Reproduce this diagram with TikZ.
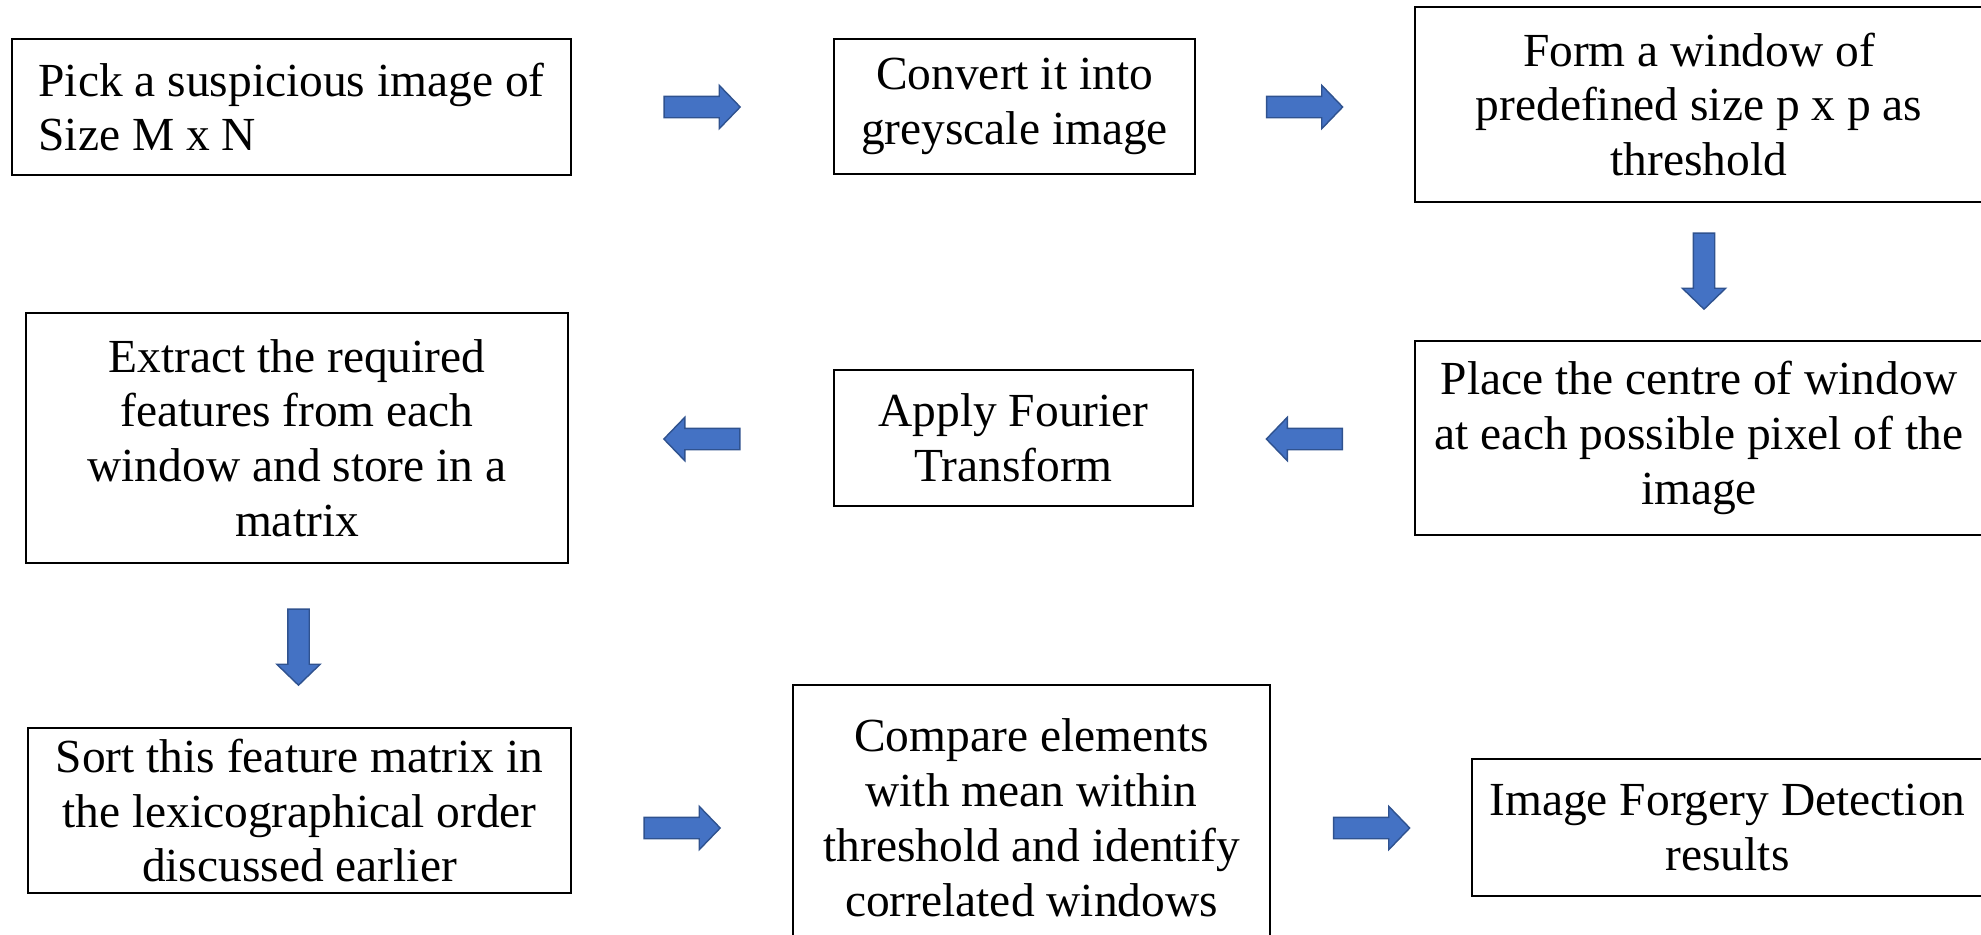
\documentclass[tikz,border=0pt]{standalone}
\usepackage{fontspec}
\setmainfont{Liberation Serif}
\usetikzlibrary{shapes.arrows}
\definecolor{arrowblue}{HTML}{4472C4}
\definecolor{arrowedge}{HTML}{2F528F}
\tikzset{
	font=\fontsize{13.5pt}{15.6pt}\selectfont,
	stage/.style={draw, line width=0.6pt, align=center, inner sep=0pt},
	blk/.style={single arrow, draw=arrowedge, fill=arrowblue, line width=0.4pt,
		inner sep=0.1cm, minimum width=0.42cm, minimum height=0.76cm,
		single arrow head extend=0.11cm, single arrow tip angle=92},
	toright/.style={blk},
	toleft/.style={blk, shape border rotate=180},
	todown/.style={blk, shape border rotate=270}
}

\begin{document}
\begin{tikzpicture}
\useasboundingbox (0,0) rectangle (19.81,-9.34);

% first row
\node[stage, align=left, minimum width=5.59cm, minimum height=1.36cm] (pick) at (2.915,-1.07)
	{Pick a suspicious image of\\Size M x N};
\node[stage, minimum width=3.61cm, minimum height=1.35cm] (grey) at (10.145,-1.065)
	{Convert it into\\greyscale image};
\node[stage, minimum width=5.68cm, minimum height=1.95cm] (win) at (16.99,-1.045)
	{Form a window of\\predefined size p x p as\\threshold};

% second row
\node[stage, minimum width=5.68cm, minimum height=1.94cm] (place) at (16.99,-4.38)
	{Place the centre of window\\at each possible pixel of the\\image};
\node[stage, minimum width=3.59cm, minimum height=1.36cm] (fourier) at (10.135,-4.38)
	{Apply Fourier\\Transform};
\node[stage, minimum width=5.42cm, minimum height=2.50cm] (extract) at (2.97,-4.38)
	{Extract the required\\features from each\\window and store in a\\matrix};

% third row
\node[stage, minimum width=5.43cm, minimum height=1.65cm] (sort) at (2.995,-8.105)
	{Sort this feature matrix in\\the lexicographical order\\discussed earlier};
\node[stage, minimum width=4.77cm, minimum height=2.65cm] (cmp) at (10.315,-8.175)
	{Compare elements\\with mean within\\threshold and identify\\correlated windows};
\node[stage, minimum width=5.11cm, minimum height=1.37cm] (res) at (17.275,-8.275)
	{Image Forgery Detection\\results};

% block arrows
\node[toright] (a1) at (6.97,-1.07) {};
\node[toright] (a2) at (12.995,-1.07) {};
\node[todown] (a3) at (17.04,-2.66) {};
\node[toleft] (a4) at (13.095,-4.39) {};
\node[toleft] (a5) at (7.07,-4.39) {};
\node[todown] (a6) at (2.985,-6.42) {};
\node[toright] (a7) at (6.77,-8.28) {};
\node[toright] (a8) at (13.665,-8.28) {};

\end{tikzpicture}
\end{document}
